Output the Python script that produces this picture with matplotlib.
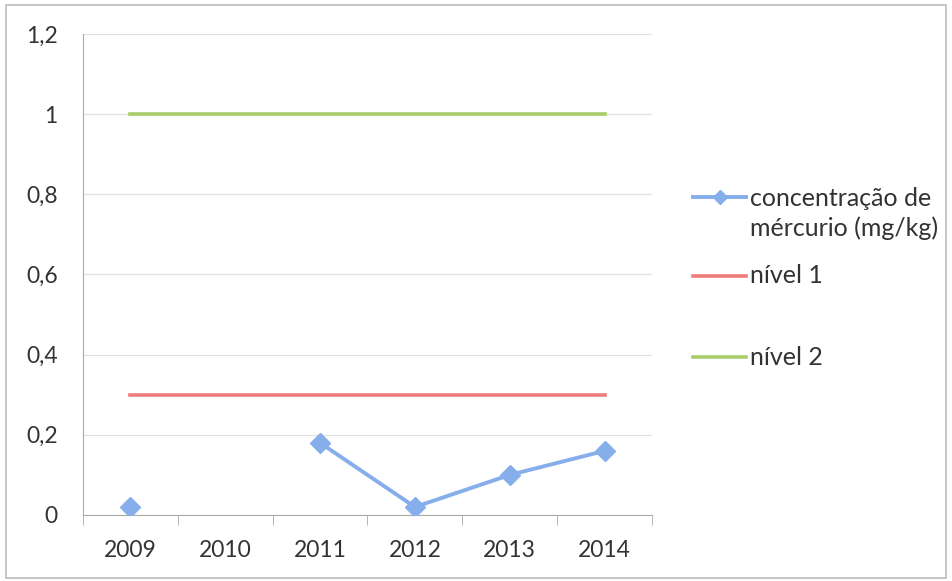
import numpy as np
import matplotlib.pyplot as plt
from matplotlib.lines import Line2D
from matplotlib.patches import Rectangle
from matplotlib.ticker import FuncFormatter

years = ["2009", "2010", "2011", "2012", "2013", "2014"]
mercurio = [0.02, np.nan, 0.18, 0.02, 0.10, 0.16]
nivel1 = [0.3, 0.3, 0.3, 0.3, 0.3, 0.3]
nivel2 = [1.0, 1.0, 1.0, 1.0, 1.0, 1.0]
y_ticks = [0, 0.2, 0.4, 0.6, 0.8, 1.0, 1.2]
labels = ["concentração de\nmércurio (mg/kg)", "nível 1", "nível 2"]

plt.rcParams["font.family"] = ["Lato", "DejaVu Sans"]

fig = plt.figure(figsize=(9.52, 5.81), dpi=100)
ax = fig.add_axes([0.087, 0.1136, 0.598, 0.828])

x = np.arange(len(years))

l0, = ax.plot(x, mercurio, color="#86aeea", linewidth=2.8, marker="D", markersize=10, zorder=4)
l1, = ax.plot(x, nivel1, color="#ee7c7c", linewidth=2.6, zorder=3)
l2, = ax.plot(x, nivel2, color="#a8cd6a", linewidth=2.6, zorder=3)

ax.set_xlim(-0.5, len(years) - 0.5)
ax.set_ylim(0, 1.2)
ax.set_yticks(y_ticks)
ax.yaxis.set_major_formatter(FuncFormatter(lambda v, p: f"{v:g}".replace(".", ",")))
ax.set_xticks(x)
ax.set_xticklabels(years)
ax.set_xticks(np.arange(-0.5, len(years)), minor=True)
ax.tick_params(axis="x", which="major", length=0, pad=18, labelsize=16.5, labelcolor="#333333")
ax.tick_params(axis="x", which="minor", length=7, color="#aaaaaa")
ax.tick_params(axis="y", length=0, pad=18, labelsize=16.5, labelcolor="#333333")

ax.grid(axis="y", color="#e0e0e0", linewidth=0.9)
ax.set_axisbelow(True)
for s in ["top", "right"]:
    ax.spines[s].set_visible(False)
ax.spines["left"].set_color("#aaaaaa")
ax.spines["bottom"].set_color("#aaaaaa")

# legend drawn by hand, Excel style (handle next to first text line)
handle_y = [0.661, 0.525, 0.3855]
text_y = [0.6325, 0.525, 0.3855]
for line, lab, hy, ty in zip([l0, l1, l2], labels, handle_y, text_y):
    fig.add_artist(Line2D([0.728, 0.784], [hy, hy], transform=fig.transFigure,
                          color=line.get_color(), linewidth=line.get_linewidth()))
    if line.get_marker() not in (None, "None", ""):
        fig.add_artist(Line2D([0.756], [hy], transform=fig.transFigure, marker="D",
                              markersize=7, color=line.get_color(), linestyle="none"))
    fig.text(0.788, ty, lab, fontsize=18, color="#333333", va="center", ha="left",
             linespacing=1.3)

fig.patches.append(Rectangle((0.006, 0.006), 0.988, 0.986, transform=fig.transFigure,
                             fill=False, edgecolor="#bbbbbb", linewidth=1.2))

plt.savefig("out.png", dpi=100)
